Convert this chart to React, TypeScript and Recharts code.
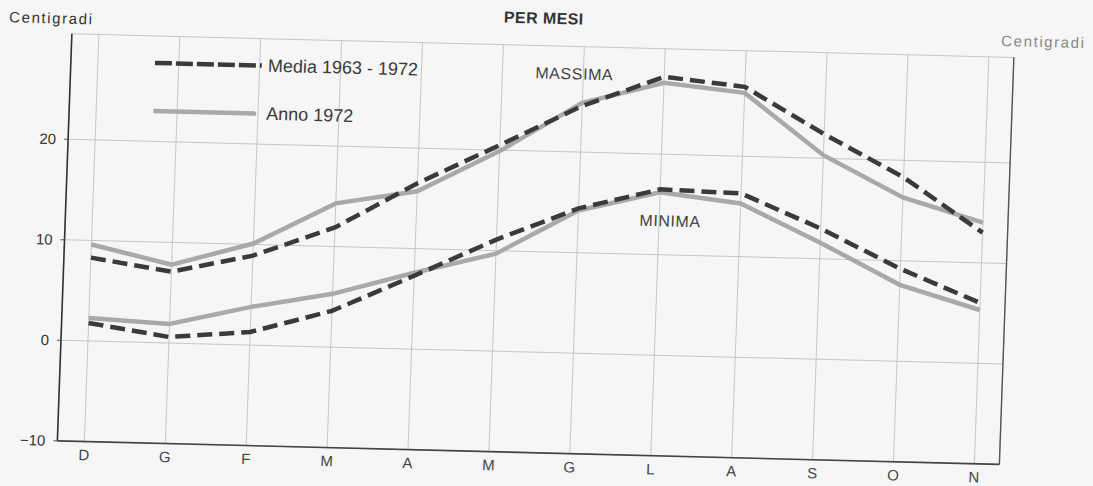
import React from 'react';
import { LineChart, Line, XAxis, YAxis, CartesianGrid, ReferenceDot, Legend } from 'recharts';

const monthKeys = ['Dic', 'Gen', 'Feb', 'Mar', 'Apr', 'Mag', 'Giu', 'Lug', 'Ago', 'Set', 'Ott', 'Nov'];
const monthLabels = ['D', 'G', 'F', 'M', 'A', 'M', 'G', 'L', 'A', 'S', 'O', 'N'];
const maxMedia = [8.3, 7.1, 8.9, 11.9, 16.5, 20.5, 24.6, 27.7, 26.9, 22.4, 18.3, 13.0];
const max1972 = [9.6, 7.8, 10.1, 14.3, 15.7, 19.9, 24.9, 27.1, 26.3, 20.3, 16.3, 14.0];
const minMedia = [1.8, 0.6, 1.3, 3.6, 7.3, 11.1, 14.4, 16.5, 16.3, 13.0, 9.2, 6.0];
const min1972 = [2.3, 1.9, 3.8, 5.3, 7.6, 9.7, 14.2, 16.2, 15.3, 11.6, 7.6, 5.3];
const yTicks = [-10, 0, 10, 20];
const leftTickLabels = ['\u221210', '0', '10', '20'];
const rightTickLabels = ['10', '0', '10', '20'];
const legendKeys = ['maxMedia', 'max1972'];

const data = monthKeys.map((m, i) => ({
  month: m,
  maxMedia: maxMedia[i],
  max1972: max1972[i],
  minMedia: minMedia[i],
  min1972: min1972[i],
}));

const FONT = '"Liberation Sans", Arial, Helvetica, sans-serif';
const DARK = '#3a3a3a';
const GRAY = '#a9a9a9';

const LeftTick = (props: any) => {
  const { x, y, payload } = props;
  const idx = yTicks.indexOf(payload.value);
  return (
    <text x={x} y={y} dy="0.35em" textAnchor="end" fill="#333" fontSize={15} fontFamily={FONT}>
      {leftTickLabels[idx]}
    </text>
  );
};

const RightTick = (props: any) => {
  const { x, y, payload } = props;
  const idx = yTicks.indexOf(payload.value);
  return (
    <text x={x + 20} y={y} dy="0.35em" textAnchor="middle" fill="#808080" fontSize={15} fontFamily={FONT}>
      {rightTickLabels[idx]}
    </text>
  );
};

const BottomTick = (props: any) => {
  const { x, y, index } = props;
  return (
    <text x={x} y={y} dy="0.71em" textAnchor="middle" fill="#444" fontSize={15} fontFamily={FONT}>
      {monthLabels[index]}
    </text>
  );
};

const NoteLabel = (props: any) => {
  const { viewBox, text, shift } = props;
  const cx = viewBox.x + (viewBox.width || 0) / 2;
  const cy = viewBox.y + (viewBox.height || 0) / 2;
  return (
    <text x={cx + shift} y={cy} dy="0.36em" textAnchor="middle" fill="#444" fontSize={16} fontFamily={FONT} letterSpacing={0.6}>
      {text}
    </text>
  );
};

const LegendContent = (props: any) => {
  const { payload } = props;
  const items = legendKeys
    .map((k) => (payload || []).find((e: any) => e.dataKey === k))
    .filter(Boolean);
  return (
    <div style={{ fontFamily: FONT }}>
      {items.map((entry: any, i: number) => (
        <div key={i} style={{ display: 'flex', alignItems: 'center', height: 30, marginBottom: 18 }}>
          <svg width={107} height={8} style={{ display: 'block' }}>
            <line
              x1={0}
              y1={4}
              x2={entry.dataKey === 'maxMedia' ? 107 : 103}
              y2={4}
              stroke={entry.color}
              strokeWidth={4.5}
              strokeDasharray={entry.dataKey === 'maxMedia' ? '17 4' : undefined}
            />
          </svg>
          <span style={{ marginLeft: 6, fontSize: 18, color: '#3a3a3a', whiteSpace: 'nowrap' }}>{entry.value}</span>
        </div>
      ))}
    </div>
  );
};

export default function App() {
  return (
    <div style={{ position: 'absolute', left: 0, top: 0, width: 1093, height: 486, background: '#f6f6f6', overflow: 'hidden' }}>
      <div
        style={{
          position: 'absolute',
          left: 0,
          top: 0,
          width: 1093,
          height: 486,
          transform: 'matrix(1, 0.025, -0.0356, 1, 0, 0)',
          transformOrigin: '0 0',
          fontFamily: FONT,
        }}
      >
        <div style={{ position: 'absolute', left: 2, top: 7, width: 100, textAlign: 'center', fontSize: 15, letterSpacing: 1.6, color: '#333', lineHeight: '20px' }}>
          Centigradi
        </div>
        <div style={{ position: 'absolute', left: 994, top: 6, width: 100, textAlign: 'center', fontSize: 15, letterSpacing: 1.6, color: '#888', lineHeight: '20px' }}>
          Centigradi
        </div>
        <div style={{ position: 'absolute', left: 484, top: -5, width: 120, textAlign: 'center', fontSize: 16, fontWeight: 'bold', letterSpacing: 0.4, color: '#333', lineHeight: '20px' }}>
          PER MESI
        </div>
        <LineChart width={1093} height={486} data={data} margin={{ top: 32, right: 38, bottom: 17, left: 33 }}>
          <CartesianGrid stroke="#c6c6c6" strokeWidth={1} />
          <XAxis
            dataKey="month"
            padding={{ left: 27, right: 25 }}
            axisLine={{ stroke: '#444', strokeWidth: 1.6 }}
            tickLine={false}
            tickSize={0}
            tickMargin={8}
            height={30}
            interval={0}
            tick={<BottomTick />}
          />
          <XAxis
            xAxisId="top"
            orientation="top"
            dataKey="month"
            height={0}
            tick={false}
            tickLine={false}
            axisLine={{ stroke: '#555', strokeWidth: 1.4 }}
          />
          <YAxis
            domain={[-10, 30.5]}
            ticks={yTicks}
            interval={0}
            width={40}
            axisLine={{ stroke: '#333', strokeWidth: 1.6 }}
            tickLine={{ stroke: '#555' }}
            tickSize={4}
            tickMargin={8}
            tick={<LeftTick />}
          />
          <YAxis
            yAxisId="right"
            orientation="right"
            domain={[-10, 30.5]}
            ticks={yTicks}
            interval={0}
            width={40}
            axisLine={{ stroke: '#555', strokeWidth: 1.4 }}
            tickLine={false}
            tickSize={0}
            tickMargin={0}
            tick={<RightTick />}
          />
          <Legend
            layout="horizontal"
            verticalAlign="middle"
            align="center"
            wrapperStyle={{ left: 157, top: 44, width: 300, height: 100 }}
            content={<LegendContent />}
          />
          <Line type="linear" dataKey="max1972" name="Anno 1972" stroke={GRAY} strokeWidth={4.5} dot={false} isAnimationActive={false} />
          <Line type="linear" dataKey="min1972" name="Anno 1972 min" stroke={GRAY} strokeWidth={4.5} dot={false} isAnimationActive={false} legendType="none" />
          <Line type="linear" dataKey="maxMedia" name="Media 1963 - 1972" stroke={DARK} strokeWidth={4.5} strokeDasharray="15 7" dot={false} isAnimationActive={false} />
          <Line type="linear" dataKey="minMedia" name="Media min" stroke={DARK} strokeWidth={4.5} strokeDasharray="15 7" dot={false} isAnimationActive={false} legendType="none" />
          <ReferenceDot x="Giu" y={27.8} r={0} fill="none" stroke="none" label={<NoteLabel text="MASSIMA" shift={-9} />} />
          <ReferenceDot x="Lug" y={13.4} r={0} fill="none" stroke="none" label={<NoteLabel text="MINIMA" shift={11} />} />
        </LineChart>
      </div>
    </div>
  );
}
